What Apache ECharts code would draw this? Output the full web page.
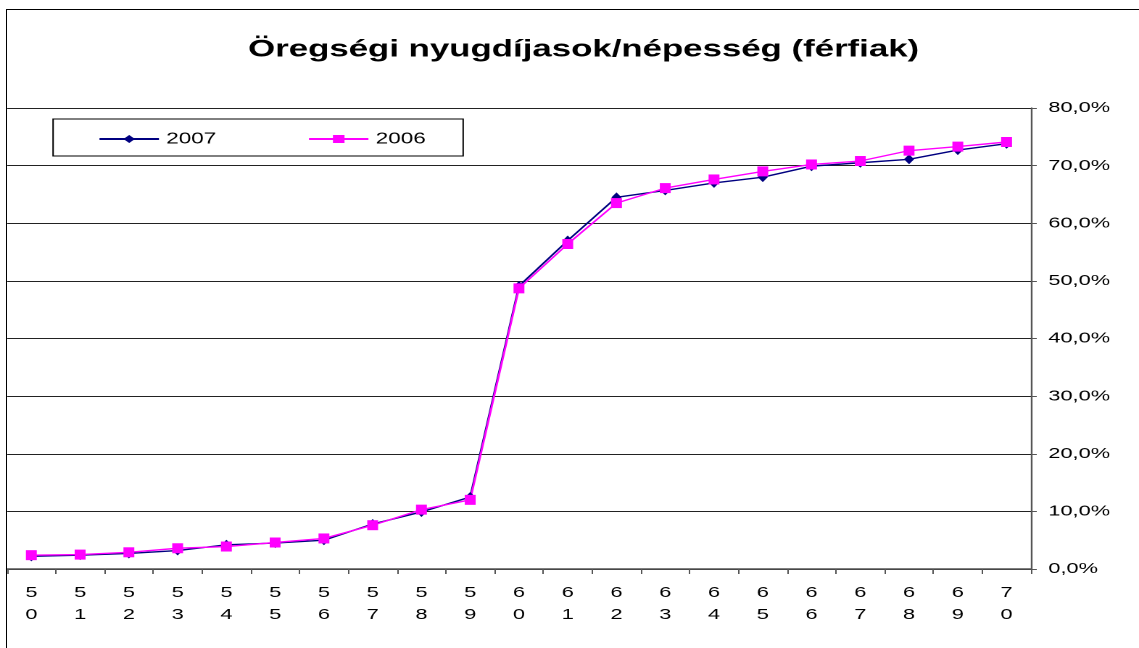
<!DOCTYPE html>
<html>
<head>
<meta charset="utf-8">
<script src="https://cdn.jsdelivr.net/npm/echarts@6/dist/echarts.min.js"></script>
<style>
  html, body { margin: 0; padding: 0; background: #fff; overflow: hidden;
    width: 1139px; height: 648px; position: relative; }
  /* the original export is stretched horizontally, so draw narrow and widen */
  #chart { position: absolute; left: 0; top: 0; width: 786px; height: 648px;
    transform: scaleX(1.45); transform-origin: 0 0; }
  /* chart-area frame: only the left and top edges fall inside the picture */
  #frame { position: absolute; left: 6px; top: 9px; right: 0; bottom: 0;
    border-left: 1.5px solid #000; border-top: 1.5px solid #000; pointer-events: none; }
</style>
</head>
<body>
<div id="chart"></div>
<div id="frame"></div>
<script>
// age groups 50..70, share of old-age pensioners in male population (%)
const ages = ['50', '51', '52', '53', '54', '55', '56', '57', '58', '59', '60',
  '61', '62', '63', '64', '65', '66', '67', '68', '69', '70']
const y2007 = [2.2, 2.4, 2.7, 3.2, 4.2, 4.5, 5.0, 7.8, 9.9, 12.5, 49.1,
  57.0, 64.5, 65.7, 67.0, 68.0, 69.9, 70.5, 71.1, 72.7, 73.8]
const y2006 = [2.4, 2.5, 2.9, 3.6, 3.9, 4.6, 5.3, 7.6, 10.3, 12.0, 48.7,
  56.4, 63.5, 66.1, 67.6, 69.0, 70.2, 70.8, 72.6, 73.3, 74.1]

const FONT = 'Liberation Sans, Arial, sans-serif'
const chart = echarts.init(document.getElementById('chart'), null,
  { renderer: 'canvas', devicePixelRatio: 2 })

chart.setOption({
  animation: false,
  textStyle: { fontFamily: FONT },
  title: {
    text: 'Öregségi nyugdíjasok/népesség (férfiak)',
    left: 397.5, top: 33, textAlign: 'center',
    textStyle: { fontFamily: FONT, fontSize: 24, fontWeight: 'bold', color: '#000' },
  },
  graphic: [
    { type: 'rect', shape: { x: 36.6, y: 119, width: 282.8, height: 37 },
      style: { fill: '#fff', stroke: '#000', lineWidth: 1 }, z: 10, silent: true },
  ],
  legend: {
    left: 67.6, top: 131, z: 20, padding: 0,
    itemWidth: 41, itemHeight: 10, itemGap: 63,
    textStyle: { fontFamily: FONT, fontSize: 15.5, color: '#000' },
    data: ['2007', '2006'],
  },
  grid: { left: 4.8, right: 75, top: 108, bottom: 79, containLabel: false },
  xAxis: {
    type: 'category',
    data: ages,
    boundaryGap: true,
    axisLine: { lineStyle: { color: '#555', width: 1.5 } },
    axisTick: { show: true, length: 5, lineStyle: { color: '#555' } },
    axisLabel: {
      color: '#000', fontSize: 15, lineHeight: 22, margin: 13,
      formatter: v => v.split('').join('\n'),
    },
  },
  yAxis: {
    type: 'value',
    position: 'right',
    min: 0, max: 80, interval: 10,
    axisLine: { show: true, lineStyle: { color: '#555', width: 1.2 } },
    axisTick: { show: true, length: 4, lineStyle: { color: '#555' } },
    axisLabel: {
      color: '#000', fontSize: 15, margin: 12,
      formatter: v => v.toFixed(1).replace('.', ',') + '%',
    },
    splitLine: { lineStyle: { color: '#222', width: 1, type: 'solid' } },
  },
  series: [
    {
      name: '2007', type: 'line', data: y2007,
      symbol: 'diamond', symbolSize: [7, 10],
      lineStyle: { color: '#000080', width: 1.4 },
      itemStyle: { color: '#000080' },
    },
    {
      name: '2006', type: 'line', data: y2006,
      symbol: 'rect', symbolSize: [7.5, 10],
      lineStyle: { color: '#ff00ff', width: 1.4 },
      itemStyle: { color: '#ff00ff' },
    },
  ],
})
</script>
</body>
</html>
